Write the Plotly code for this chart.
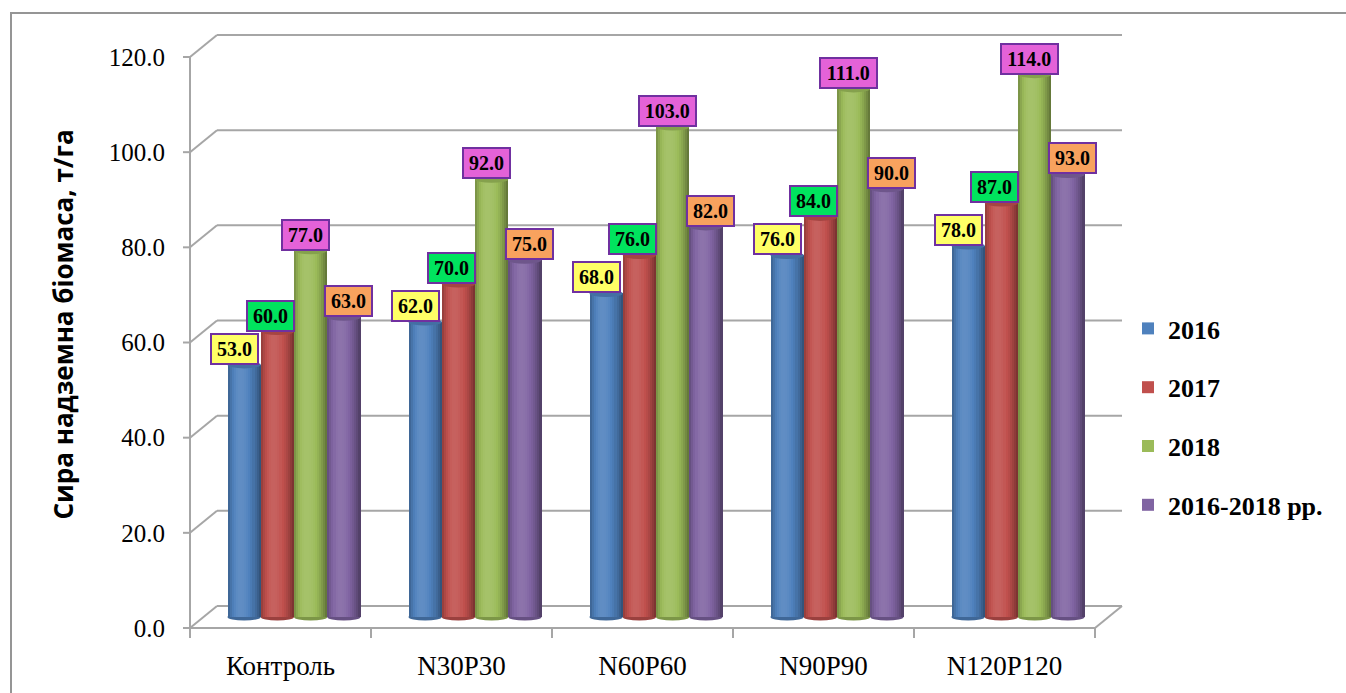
import plotly.graph_objects as go

# ---- data ----
categories = ["Контроль", "N30P30", "N60P60", "N90P90", "N120P120"]
series_names = ["2016", "2017", "2018", "2016-2018 рр."]
v2016 = [53.0, 62.0, 68.0, 76.0, 78.0]
v2017 = [60.0, 70.0, 76.0, 84.0, 87.0]
v2018 = [77.0, 92.0, 103.0, 111.0, 114.0]
vmean = [63.0, 75.0, 82.0, 90.0, 93.0]
y_ticks = [0, 20, 40, 60, 80, 100, 120]
y_title = "Сира надземна біомаса, т/га"

series_values = [v2016, v2017, v2018, vmean]
bar_colors = ["#4F81BD", "#C0504D", "#9BBB59", "#8064A2"]
label_fills = ["#FFFF66", "#00E35E", "#E462D8", "#F8A25E"]
label_xshift = [-10, -7, -5, 5]

# ---- pseudo-3D geometry (pixels -> axis units) ----
W, H = 1346, 693
PX_X = 181.0                 # pixels per category
PX_Y = 571.0 / 120.0         # pixels per value unit
DX, DY = 27.0, 22.0          # depth offset front -> back wall
MIDX = (DX / 2) / PX_X       # bars sit in the middle plane
DEP = (DY / 2) / PX_Y        # half-depth in value units

plot_l, plot_r, plot_t, plot_b = 182, 1124, 33, 632
x_min = -0.5 - (190 - plot_l) / PX_X
x_max = 4.5 + (plot_r - 1095) / PX_X
y_min = -(plot_b - 617) / PX_Y
y_max = (617 - plot_t) / PX_Y

GW = 133.0 / PX_X            # width of a group of cylinders
BW = GW / 4                  # one cylinder
NSTRIP = 16                  # vertical strips used to shade each cylinder


def shade(hex_color, f):
    r, g, b = (int(hex_color[i:i + 2], 16) for i in (1, 3, 5))
    if f >= 1:
        k = f - 1
        r, g, b = r + (255 - r) * k, g + (255 - g) * k, b + (255 - b) * k
    else:
        r, g, b = r * f, g * f, b * f
    return "#%02X%02X%02X" % (int(round(r)), int(round(g)), int(round(b)))


def profile(t):
    # light from the front-left, darker toward both edges
    if t < 0.38:
        return 1.10 - 0.36 * ((0.38 - t) / 0.38) ** 2
    return 1.10 - 0.50 * ((t - 0.38) / 0.62) ** 2


fig = go.Figure()
xs = [i + MIDX for i in range(len(categories))]

for s, (name, vals, col) in enumerate(zip(series_names, series_values, bar_colors)):
    off = -GW / 2 + s * BW
    # base cylinder (carries the legend entry)
    fig.add_trace(go.Bar(
        x=xs, y=vals, width=BW, offset=off, name=name, legendgroup=name,
        marker=dict(color=col, line=dict(width=0)), hoverinfo="y+name",
    ))
    # shading: each strip runs to the right edge, later strips cover the rest
    for k in range(NSTRIP):
        t = (k + 0.5) / NSTRIP
        fig.add_trace(go.Bar(
            x=xs, y=vals, width=BW - k * BW / NSTRIP, offset=off + k * BW / NSTRIP,
            marker=dict(color=shade(col, profile(t)), line=dict(width=0)),
            showlegend=False, legendgroup=name, hoverinfo="skip",
        ))

# front-plane axis carrying the tick labels
fig.add_trace(go.Scatter(x=[None], y=[None], yaxis="y2", showlegend=False, hoverinfo="skip"))

shapes = []
GRID = "#A6A6A6"
ELL = 3.6 / PX_Y
for s, (vals, col) in enumerate(zip(series_values, bar_colors)):
    off = -GW / 2 + s * BW
    for i, v in enumerate(vals):
        x0 = xs[i] + off
        shapes.append(dict(type="circle", xref="x", yref="y", layer="below",
                           x0=x0, x1=x0 + BW, y0=-ELL, y1=ELL,
                           fillcolor=shade(col, 0.8), line=dict(width=0)))
        shapes.append(dict(type="circle", xref="x", yref="y", layer="above",
                           x0=x0, x1=x0 + BW, y0=v - ELL, y1=v + ELL,
                           fillcolor=shade(col, 0.86), line=dict(width=0)))

# back wall gridlines and left wall connectors
bx0, bx1 = -0.5 + DX / PX_X, 4.5 + DX / PX_X
for v in y_ticks:
    shapes.append(dict(type="line", xref="x", yref="y", layer="below",
                       x0=bx0, x1=bx1, y0=v + DEP, y1=v + DEP,
                       line=dict(color=GRID, width=2)))
    shapes.append(dict(type="line", xref="x", yref="y", layer="below",
                       x0=-0.5, x1=bx0, y0=v - DEP, y1=v + DEP,
                       line=dict(color=GRID, width=2)))
    shapes.append(dict(type="line", xref="x", yref="y",
                       x0=-0.5 - 7 / PX_X, x1=-0.5, y0=v - DEP, y1=v - DEP,
                       line=dict(color=GRID, width=2)))
# front axis lines
shapes.append(dict(type="line", xref="x", yref="y", x0=-0.5, x1=-0.5,
                   y0=-DEP, y1=y_ticks[-1] - DEP, line=dict(color=GRID, width=2)))
shapes.append(dict(type="line", xref="x", yref="y", x0=-0.5, x1=4.5,
                   y0=-DEP, y1=-DEP, line=dict(color=GRID, width=2)))
shapes.append(dict(type="line", xref="x", yref="y", x0=4.5, x1=bx1,
                   y0=-DEP, y1=DEP, line=dict(color=GRID, width=2)))
# category separators under the floor
for b in range(len(categories) + 1):
    shapes.append(dict(type="line", xref="x", yref="paper", x0=b - 0.5, x1=b - 0.5,
                       y0=(plot_b - 628) / (plot_b - plot_t), y1=-(638 - plot_b) / (plot_b - plot_t),
                       line=dict(color=GRID, width=2)))

# outer frame
pw, ph = plot_r - plot_l, plot_b - plot_t
shapes.append(dict(type="rect", xref="paper", yref="paper",
                   x0=(11 - plot_l) / pw, x1=(W + 20 - plot_l) / pw,
                   y0=(plot_b - (H + 20)) / ph, y1=(plot_b - 13) / ph,
                   line=dict(color="#959595", width=2), fillcolor="rgba(0,0,0,0)"))

# value labels
annotations = []
for s, (vals, fill) in enumerate(zip(series_values, label_fills)):
    off = -GW / 2 + s * BW
    for i, v in enumerate(vals):
        txt = f"{v:.1f}"
        annotations.append(dict(
            x=xs[i] + off + BW / 2, y=v, xref="x", yref="y",
            text=f"<b>{txt}</b>", showarrow=False, yanchor="bottom",
            xshift=label_xshift[s], yshift=0,
            font=dict(family="Liberation Serif", size=20, color="black"),
            bgcolor=fill, bordercolor="#7030A0", borderwidth=2, borderpad=2,
            width=len(txt) * 9.5 + 3, height=24,
        ))

annotations.append(dict(
    x=(62.5 - plot_l) / pw, y=(plot_b - 325) / ph, xref="paper", yref="paper",
    text=f"<b>{y_title}</b>", textangle=-90, showarrow=False,
    font=dict(family="Open Sans", size=26, color="black"),
    xanchor="center", yanchor="middle",
))

fig.update_layout(
    width=W, height=H,
    margin=dict(l=plot_l, r=W - plot_r, t=plot_t, b=H - plot_b),
    paper_bgcolor="white", plot_bgcolor="white",
    barmode="overlay", bargap=0,
    showlegend=True,
    legend=dict(x=(1128 - plot_l) / pw, y=(plot_b - 305) / ph, xanchor="left", yanchor="top",
                font=dict(family="Liberation Serif", size=26, color="black", weight="bold"),
                tracegroupgap=22, bgcolor="rgba(0,0,0,0)"),
    xaxis=dict(range=[x_min, x_max], tickmode="array", tickvals=list(range(len(categories))),
               ticktext=categories, ticks="", showgrid=False, zeroline=False, showline=False,
               tickfont=dict(family="Liberation Serif", size=27, color="black"),
               ticklabelstandoff=15, fixedrange=True),
    yaxis=dict(range=[y_min, y_max], showgrid=False, zeroline=False, showline=False,
               showticklabels=False, ticks="", fixedrange=True),
    yaxis2=dict(range=[y_min + DEP, y_max + DEP], overlaying="y", side="left",
                tickmode="array", tickvals=y_ticks, ticktext=[f"{v:.1f}" for v in y_ticks],
                showgrid=False, zeroline=False, showline=False, ticks="",
                tickfont=dict(family="Liberation Serif", size=25, color="black"),
                ticklabelstandoff=16, fixedrange=True),
    shapes=shapes,
    annotations=annotations,
)

fig.write_html("out.html")
